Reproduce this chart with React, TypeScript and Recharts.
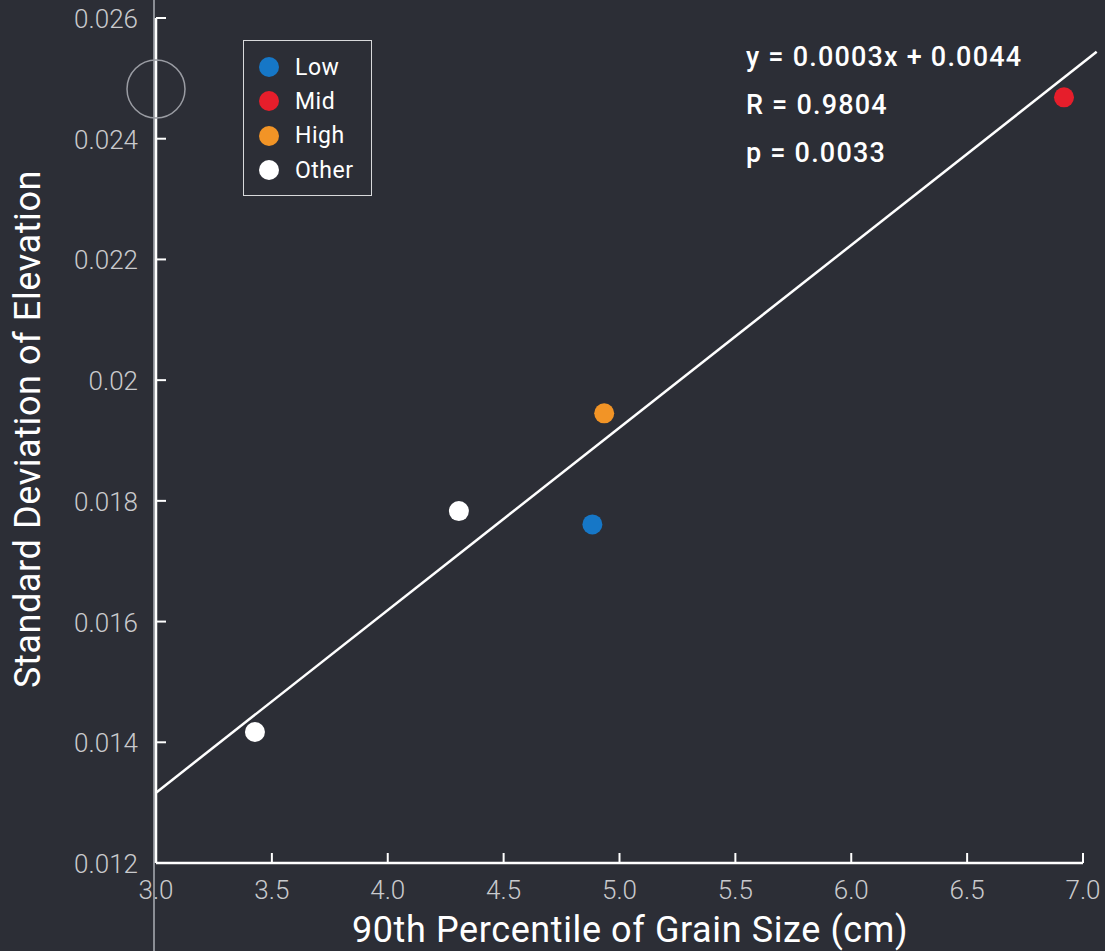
import { ScatterChart, Scatter, XAxis, YAxis, ReferenceLine, ReferenceDot } from "recharts";

// groups and their sample values (90th pct grain size vs SD of elevation)
const GROUPS = ["Low", "Mid", "High", "Other"];
const GROUP_OF_SAMPLE = ["Low", "Mid", "High", "Other", "Other"];
const GRAIN_P90 = [4.883, 6.918, 4.934, 3.427, 4.307];
const ELEV_SD = [0.01761, 0.024686, 0.01945, 0.01417, 0.01783];

const X_TICKS = [3.0, 3.5, 4.0, 4.5, 5.0, 5.5, 6.0, 6.5, 7.0];
const Y_TICKS = [0.012, 0.014, 0.016, 0.018, 0.02, 0.022, 0.024, 0.026];

// fitted line as drawn on the plot
const FIT_SLOPE = 0.003024;
const FIT_INTERCEPT = 0.004093;
const FIT_X = [3.0, 7.059];
const STATS = ["y = 0.0003x + 0.0044", "R = 0.9804", "p = 0.0033"];

// highlighted spot on the y axis
const MARK_X = 3.0;
const MARK_Y = 0.024823;

const COLORS: Record<string, string> = {
  Low: "#1677c7",
  Mid: "#e61e2b",
  High: "#f29426",
  Other: "#ffffff",
};

const BG = "#2c2e36";
const FONT = "Roboto, 'Open Sans', sans-serif";

const seriesFor = (g: string) =>
  GRAIN_P90.map((x, i) => ({ x, y: ELEV_SD[i], g: GROUP_OF_SAMPLE[i] })).filter((d) => d.g === g);

const fitSegment = FIT_X.map((x) => ({ x, y: FIT_INTERCEPT + FIT_SLOPE * x }));

const XTick = (props: any) => {
  const { x, y, payload } = props;
  return (
    <g>
      <line x1={x} x2={x} y1={y} y2={y - 10} stroke="#fff" strokeWidth={2} />
      <text x={x} y={y + 27} textAnchor="middle" dominantBaseline="central" fill="#c9cacd" fontSize={26} fontWeight={300} fontFamily={FONT}>
        {Number(payload.value).toFixed(1)}
      </text>
    </g>
  );
};

const YTick = (props: any) => {
  const { x, y, payload } = props;
  return (
    <g>
      <line x1={x} x2={x + 10} y1={y} y2={y} stroke="#fff" strokeWidth={2} />
      <text x={x - 18} y={y + 1} textAnchor="end" dominantBaseline="central" fill="#c9cacd" fontSize={26} fontWeight={300} fontFamily={FONT}>
        {String(Number(Number(payload.value).toFixed(3)))}
      </text>
    </g>
  );
};

const LegendBox = () => (
  <div
    style={{
      position: "absolute",
      left: 243,
      top: 40,
      border: "1.5px solid #d8d9db",
      width: 129,
      padding: "9px 0 8px 0",
      boxSizing: "border-box",
      fontFamily: FONT,
      fontSize: 23,
      color: "#fff",
    }}
  >
    {GROUPS.map((g) => (
      <div key={g} style={{ display: "flex", alignItems: "center", height: 34.3, paddingLeft: 15 }}>
        <span style={{ width: 20, height: 20, borderRadius: 10, background: COLORS[g], display: "inline-block" }} />
        <span style={{ marginLeft: 16, letterSpacing: 0.5 }}>{g}</span>
      </div>
    ))}
  </div>
);

export default function App() {
  return (
    <div style={{ position: "absolute", left: 0, top: 0, width: 1105, height: 951, background: BG, overflow: "hidden" }}>
      <div style={{ position: "absolute", left: 153, top: 0, width: 2, height: 951, background: "#8b8e95" }} />
      <div style={{ position: "absolute", left: 0, top: 0 }}>
        <ScatterChart width={1105} height={951} margin={{ top: 18, right: 22, bottom: 0, left: 0 }}>
          <XAxis
            type="number"
            dataKey="x"
            domain={[3, 7]}
            ticks={X_TICKS}
            height={88}
            tickSize={0}
            tickMargin={0}
            tickLine={false}
            axisLine={{ stroke: "#fff", strokeWidth: 2.5 }}
            tick={<XTick />}
            allowDataOverflow
          />
          <YAxis
            type="number"
            dataKey="y"
            domain={[0.012, 0.026]}
            ticks={Y_TICKS}
            width={156}
            tickSize={0}
            tickMargin={0}
            tickLine={false}
            axisLine={{ stroke: "#fff", strokeWidth: 2.5 }}
            tick={<YTick />}
            allowDataOverflow
          />
          <ReferenceDot x={MARK_X} y={MARK_Y} r={29} fill="none" stroke="#9a9ca3" strokeWidth={1.5} ifOverflow="visible" />
          <ReferenceLine segment={fitSegment} stroke="#fff" strokeWidth={2.5} ifOverflow="visible" />
          {GROUPS.map((g) => (
            <Scatter
              key={g}
              name={g}
              data={seriesFor(g)}
              fill={COLORS[g]}
              isAnimationActive={false}
              shape={(p: any) => <circle cx={p.cx} cy={p.cy} r={10} fill={COLORS[g]} />}
            />
          ))}
        </ScatterChart>
      </div>
      <LegendBox />
      <div style={{ position: "absolute", left: 746, top: 33, fontFamily: FONT, fontSize: 27, fontWeight: 500, letterSpacing: 1.2, color: "#fff", lineHeight: "48px" }}>
        {STATS.map((s) => (
          <div key={s}>{s}</div>
        ))}
      </div>
      <div
        style={{
          position: "absolute",
          left: 28,
          top: 429,
          transform: "translate(-50%, -50%) rotate(-90deg)",
          whiteSpace: "nowrap",
          fontFamily: FONT,
          fontSize: 36,
          letterSpacing: 0.6,
          color: "#fff",
        }}
      >
        Standard Deviation of Elevation
      </div>
      <div
        style={{
          position: "absolute",
          left: 630,
          top: 930,
          transform: "translate(-50%, -50%)",
          whiteSpace: "nowrap",
          fontFamily: FONT,
          fontSize: 36,
          letterSpacing: 0.6,
          color: "#fff",
        }}
      >
        90th Percentile of Grain Size (cm)
      </div>
    </div>
  );
}
